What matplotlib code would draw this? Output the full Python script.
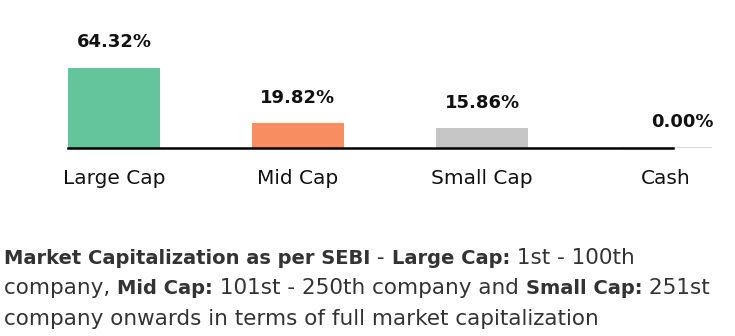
import matplotlib
matplotlib.use('Agg')
import matplotlib.pyplot as plt

plt.rcParams['font.family'] = ['DejaVu Sans']

# data
categories = ['Large Cap', 'Mid Cap', 'Small Cap', 'Cash']
weights = [64.32, 19.82, 15.86, 0.00]
colors = ['#64C59D', '#F98D62', '#C6C6C6', '#DDDDDD']

# footnote lines: (text, bold)
note_lines = [
    [('Market Capitalization as per SEBI', True), (' - ', False),
     ('Large Cap:', True), (' 1st - 100th', False)],
    [('company, ', False), ('Mid Cap:', True),
     (' 101st - 250th company and ', False), ('Small Cap:', True), (' 251st', False)],
    [('company onwards in terms of full market capitalization', False)],
]

W, H = 735, 336
fig = plt.figure(figsize=(W / 100, H / 100), dpi=100)

# axes placed in pixel terms: baseline at y=148 px from top, bar spacing 184 px
base_px = 148
ax = fig.add_axes([0, (H - base_px) / H, 1, base_px / H])
step = 184
x0 = 114
ax.set_xlim(-x0 / step, (W - x0) / step)
ax.set_ylim(0, 64.32 * base_px / 80)

x = range(len(categories))
bars = ax.bar(x, weights, width=0.5, color=colors, zorder=2)
bars[-1].set_edgecolor('#DDDDDD')
bars[-1].set_linewidth(1.5)

for k, (rect, v) in enumerate(zip(bars, weights)):
    dx = 12 if k == len(weights) - 1 else 0   # last label sits right of centre
    ax.annotate(f'{v:.2f}%', (rect.get_x() + rect.get_width() / 2, v),
                xytext=(dx, 12), textcoords='offset points',
                ha='center', va='bottom', fontsize=13, fontweight='bold',
                color='#111111')

for s in ['top', 'right', 'left']:
    ax.spines[s].set_visible(False)
ax.spines['bottom'].set_bounds(-0.25, 3.038)
ax.spines['bottom'].set_linewidth(1.8)
ax.spines['bottom'].set_zorder(3)
ax.set_yticks([])
ax.set_xticks(list(x))
ax.set_xticklabels(categories, fontsize=14.5, color='#111111')
ax.tick_params(axis='x', length=0, pad=15)
ax.patch.set_visible(False)

# footnote with mixed bold segments, baselines in px from top
line_y = [264, 294.5, 325]
for parts, ypx in zip(note_lines, line_y):
    for txt, bold in parts:
        fig.text(4 / W, 1 - ypx / H, txt, color='#333333',
                 va='baseline', ha='left',
                 fontsize=14 if bold else 15.5,
                 fontweight='bold' if bold else 'normal')

# shift each segment to follow the previous one on its line
fig.canvas.draw()
r = fig.canvas.get_renderer()
texts = fig.texts
i = 0
for parts in note_lines:
    fy = texts[i].get_position()[1]
    right = texts[i].get_window_extent(r).x1
    for k in range(1, len(parts)):
        t = texts[i + k]
        t.set_position((right / (fig.dpi * fig.get_figwidth()), fy))
        right = t.get_window_extent(r).x1
    i += len(parts)

fig.savefig('out.png', dpi=100)
